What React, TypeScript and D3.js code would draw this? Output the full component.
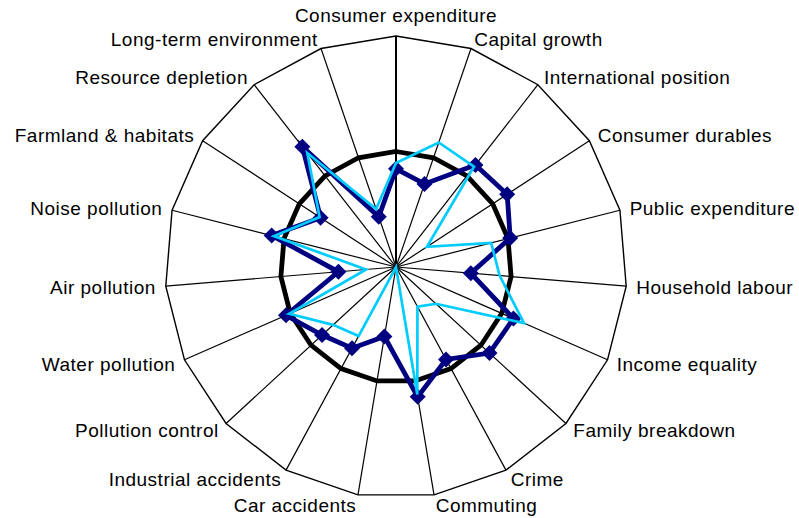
import React from "react";
import * as d3 from "d3";

const categories = [
  "Consumer expenditure",
  "Capital growth",
  "International position",
  "Consumer durables",
  "Public expenditure",
  "Household labour",
  "Income equality",
  "Family breakdown",
  "Crime",
  "Commuting",
  "Car accidents",
  "Industrial accidents",
  "Pollution control",
  "Water pollution",
  "Air pollution",
  "Noise pollution",
  "Farmland & habitats",
  "Resource depletion",
  "Long-term environment",
];

const baselineSeries = [1, 1, 1, 1, 1, 1, 1, 1, 1, 1, 1, 1, 1, 1, 1, 1, 1, 1, 1];
const darkSeries = [0.85, 0.76, 1.12, 1.15, 1.02, 0.65, 1.11, 1.1, 0.91, 1.14, 0.61, 0.8, 0.87, 1.04, 0.5, 1.11, 0.78, 1.32, 0.46];
const lightSeries = [0.9, 1.14, 1.1, 0.32, 0.85, 0.9, 1.21, 0.47, 0.39, 1.12, 0, 0.68, 0.74, 1.01, 0.26, 1.09, 0.79, 1.25, 0.53];

const W = 799;
const H = 518;
const cx = 396;
const cy = 267;
const R = 231;
const maxValue = 2;
const fontSize = 19;

export default function App() {
  const n = categories.length;
  const angle = d3
    .scaleLinear()
    .domain([0, n])
    .range([0, 2 * Math.PI]);
  const radius = d3.scaleLinear().domain([0, maxValue]).range([0, R]);

  const pt = (i: number, v: number): [number, number] => {
    const a = angle(i);
    const r = radius(v);
    return [cx + r * Math.sin(a), cy - r * Math.cos(a)];
  };

  const line = (vals: number[]) =>
    d3.line().curve(d3.curveLinearClosed)(vals.map((v, i) => pt(i, v))) as string;

  const outer = d3.range(n).map((i) => pt(i, maxValue));
  const outerPath = d3.line().curve(d3.curveLinearClosed)(outer) as string;

  const diamond = (s: number) => `M0,${-s}L${s},0L0,${s}L${-s},0Z`;

  return (
    <svg
      width={W}
      height={H}
      style={{ position: "absolute", left: 0, top: 0, background: "#fff" }}
      fontFamily="'Liberation Sans', Arial, sans-serif"
    >
      <rect x={0} y={0} width={W} height={H} fill="#fff" />
      {outer.map(([x, y], i) => (
        <line
          key={"s" + i}
          x1={cx}
          y1={cy}
          x2={x}
          y2={y}
          stroke="#000"
          strokeWidth={i === 0 ? 2 : 1.2}
        />
      ))}
      <path d={outerPath} fill="none" stroke="#000" strokeWidth={1.4} />
      <path d={line(baselineSeries)} fill="none" stroke="#000" strokeWidth={4.8} strokeLinejoin="miter" />
      <path d={line(darkSeries)} fill="none" stroke="#000080" strokeWidth={4.8} strokeLinejoin="miter" />
      {darkSeries.map((v, i) => {
        const [x, y] = pt(i, v);
        return <path key={"m" + i} d={diamond(8)} transform={`translate(${x},${y})`} fill="#000080" />;
      })}
      <path d={line(lightSeries)} fill="none" stroke="#00CCFF" strokeWidth={2.7} strokeLinejoin="miter" />
      {categories.map((c, i) => {
        const a = angle(i);
        const s = Math.sin(a);
        const co = Math.cos(a);
        const g = 10;
        const [vx, vy] = pt(i, maxValue);
        const px = vx + g * s;
        const py = vy - g * co;
        let anchor = "middle";
        if (s > 0.05) anchor = "start";
        else if (s < -0.05) anchor = "end";
        const baseY = i === 0 ? py - 4.5 : py + 0.36 * fontSize;
        return (
          <text
            key={"l" + i}
            x={px}
            y={baseY}
            textAnchor={anchor}
            fontSize={fontSize}
            letterSpacing={0.5}
            fill="#000"
          >
            {c}
          </text>
        );
      })}
    </svg>
  );
}
